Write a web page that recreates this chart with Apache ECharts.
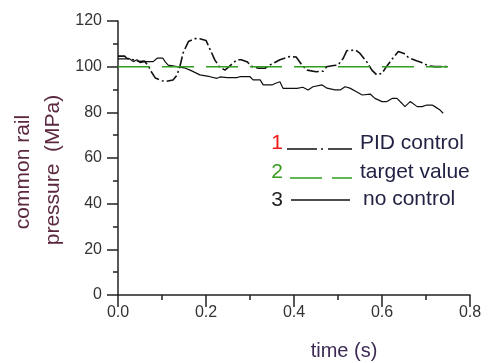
<!DOCTYPE html>
<html>
<head>
<meta charset="utf-8">
<script src="https://cdn.jsdelivr.net/npm/echarts@6/dist/echarts.min.js"></script>
<style>
  html, body { margin: 0; padding: 0; background: #fff; }
  #chart { width: 488px; height: 363px; }
</style>
</head>
<body>
<div id="chart"></div>
<script>
// time (s) / pressure (MPa)
const pidTime = [0, 0.015, 0.02, 0.035, 0.05, 0.06, 0.07, 0.075, 0.085, 0.1, 0.11, 0.125, 0.133, 0.14, 0.148, 0.16, 0.175, 0.186, 0.2, 0.213, 0.22, 0.23, 0.243, 0.255, 0.27, 0.28, 0.293, 0.305, 0.32, 0.334, 0.345, 0.368, 0.39, 0.405, 0.418, 0.43, 0.45, 0.466, 0.474, 0.49, 0.5, 0.512, 0.52, 0.54, 0.55, 0.565, 0.577, 0.588, 0.6, 0.61, 0.625, 0.637, 0.65, 0.66, 0.68, 0.69, 0.705, 0.72, 0.75];
const pidValue = [104.6, 104.6, 103.7, 103, 102.2, 102.5, 100, 98, 95, 93.8, 93.6, 94.2, 96, 99.5, 106, 111, 112.3, 112.2, 111.5, 106, 103, 100, 98.5, 100.5, 103, 103, 102.2, 100, 99.3, 99.3, 100.7, 103, 104.4, 104.2, 100.7, 98.5, 97.8, 98, 100, 100.5, 100.7, 103.7, 107, 107.3, 105.8, 102.2, 98.5, 96.4, 97.1, 100, 103.8, 106.6, 105.8, 104, 102.5, 101.8, 100.4, 100, 100];

const noCtrlTime = [0, 0.016, 0.027, 0.035, 0.043, 0.05, 0.061, 0.08, 0.089, 0.102, 0.107, 0.114, 0.134, 0.15, 0.164, 0.186, 0.209, 0.225, 0.232, 0.248, 0.27, 0.277, 0.3, 0.307, 0.323, 0.33, 0.35, 0.357, 0.368, 0.375, 0.407, 0.42, 0.432, 0.443, 0.464, 0.475, 0.493, 0.505, 0.516, 0.527, 0.543, 0.555, 0.573, 0.584, 0.6, 0.611, 0.623, 0.634, 0.645, 0.652, 0.664, 0.68, 0.691, 0.702, 0.714, 0.72, 0.732, 0.739];
const noCtrlValue = [103.4, 103.4, 103.4, 102.2, 103, 101.8, 102.2, 102.2, 103.7, 103.7, 102.2, 100.7, 100, 99.5, 98.5, 96.4, 95.6, 94.9, 95.5, 95.2, 95.2, 95.6, 95.6, 94.2, 94.2, 92, 92, 92.6, 93.4, 90.5, 90.5, 91, 89.8, 91.2, 92, 90.6, 89.8, 89.8, 91.2, 90.6, 88.9, 87.6, 88, 86.1, 84.7, 84.7, 86.1, 86.1, 84, 82.5, 84.7, 82.5, 82.5, 83.2, 83.2, 82.5, 81, 79.6];

const targetTime = [0, 0.75];
const targetValue = [100, 100];

const legendNames = ['PID control', 'target value', 'no control'];

const zip = (xs, ys) => xs.map((x, i) => [x, ys[i]]);

const FONT = '"Liberation Sans", Arial, sans-serif';
const AXIS = '#222';
const GREEN = '#2e9e1e';
const TXT = '21px ' + FONT;

const chart = echarts.init(document.getElementById('chart'), null, { renderer: 'canvas' });

const axisCommon = {
  axisLine: { show: true, onZero: false, lineStyle: { color: AXIS, width: 1.5 } },
  axisTick: { show: true, inside: false, lineStyle: { color: AXIS, width: 1.5 } },
  minorTick: { show: true, splitNumber: 2, length: 5, lineStyle: { color: AXIS, width: 1.5 } },
  splitLine: { show: false },
  axisLabel: { color: '#333', fontFamily: FONT, fontSize: 16 },
};

chart.setOption({
  animation: false,
  backgroundColor: '#fff',
  grid: { left: 118, right: 18, top: 21, bottom: 68 },
  xAxis: {
    type: 'value', min: 0, max: 0.8, interval: 0.2,
    ...axisCommon,
    axisTick: { ...axisCommon.axisTick, length: 12 },
    axisLabel: { ...axisCommon.axisLabel, margin: 10, formatter: v => v.toFixed(1) },
  },
  yAxis: {
    type: 'value', min: 0, max: 120, interval: 20,
    ...axisCommon,
    axisTick: { ...axisCommon.axisTick, length: 11 },
    axisLabel: { ...axisCommon.axisLabel, margin: 16 },
  },
  series: [
    {
      name: legendNames[2], type: 'line', showSymbol: false, z: 2,
      data: zip(noCtrlTime, noCtrlValue),
      lineStyle: { color: '#111', width: 1.2 },
    },
    {
      name: legendNames[0], type: 'line', showSymbol: false, z: 3,
      data: zip(pidTime, pidValue),
      lineStyle: { color: '#111', width: 1.6, type: [12, 3, 2, 3] },
    },
    {
      name: legendNames[1], type: 'line', showSymbol: false, z: 4,
      data: zip(targetTime, targetValue),
      lineStyle: { color: GREEN, width: 1.5, type: [32, 12] },
    },
  ],
  graphic: [
    // axis titles
    { type: 'text', x: 23, y: 172, rotation: Math.PI / 2,
      style: { text: 'common rail', font: TXT, fill: '#5b2840', align: 'center', verticalAlign: 'middle' } },
    { type: 'text', x: 53, y: 170, rotation: Math.PI / 2,
      style: { text: 'pressure  (MPa)', font: TXT, fill: '#5b2840', align: 'center', verticalAlign: 'middle' } },
    { type: 'text', x: 344, y: 351,
      style: { text: 'time (s)', font: '20px ' + FONT, fill: '#3c2a55', align: 'center', verticalAlign: 'middle' } },
    // legend
    { type: 'text', x: 277, y: 143, style: { text: '1', font: TXT, fill: '#f01818', align: 'center', verticalAlign: 'middle' } },
    { type: 'line', shape: { x1: 287, y1: 149, x2: 352, y2: 149 }, style: { stroke: '#111', lineWidth: 1.5, lineDash: [30, 4, 2, 5] } },
    { type: 'text', x: 360, y: 143, style: { text: legendNames[0], font: TXT, fill: '#222244', align: 'left', verticalAlign: 'middle' } },

    { type: 'text', x: 277, y: 172, style: { text: '2', font: TXT, fill: '#3a9a20', align: 'center', verticalAlign: 'middle' } },
    { type: 'line', shape: { x1: 290, y1: 178, x2: 352, y2: 178 }, style: { stroke: GREEN, lineWidth: 1.5, lineDash: [32, 10] } },
    { type: 'text', x: 360, y: 172, style: { text: legendNames[1], font: TXT, fill: '#222244', align: 'left', verticalAlign: 'middle' } },

    { type: 'text', x: 277, y: 200, style: { text: '3', font: TXT, fill: '#222', align: 'center', verticalAlign: 'middle' } },
    { type: 'line', shape: { x1: 291, y1: 200, x2: 350, y2: 200 }, style: { stroke: '#111', lineWidth: 1.5 } },
    { type: 'text', x: 363, y: 199, style: { text: legendNames[2], font: TXT, fill: '#222244', align: 'left', verticalAlign: 'middle' } },
  ],
});
</script>
</body>
</html>
